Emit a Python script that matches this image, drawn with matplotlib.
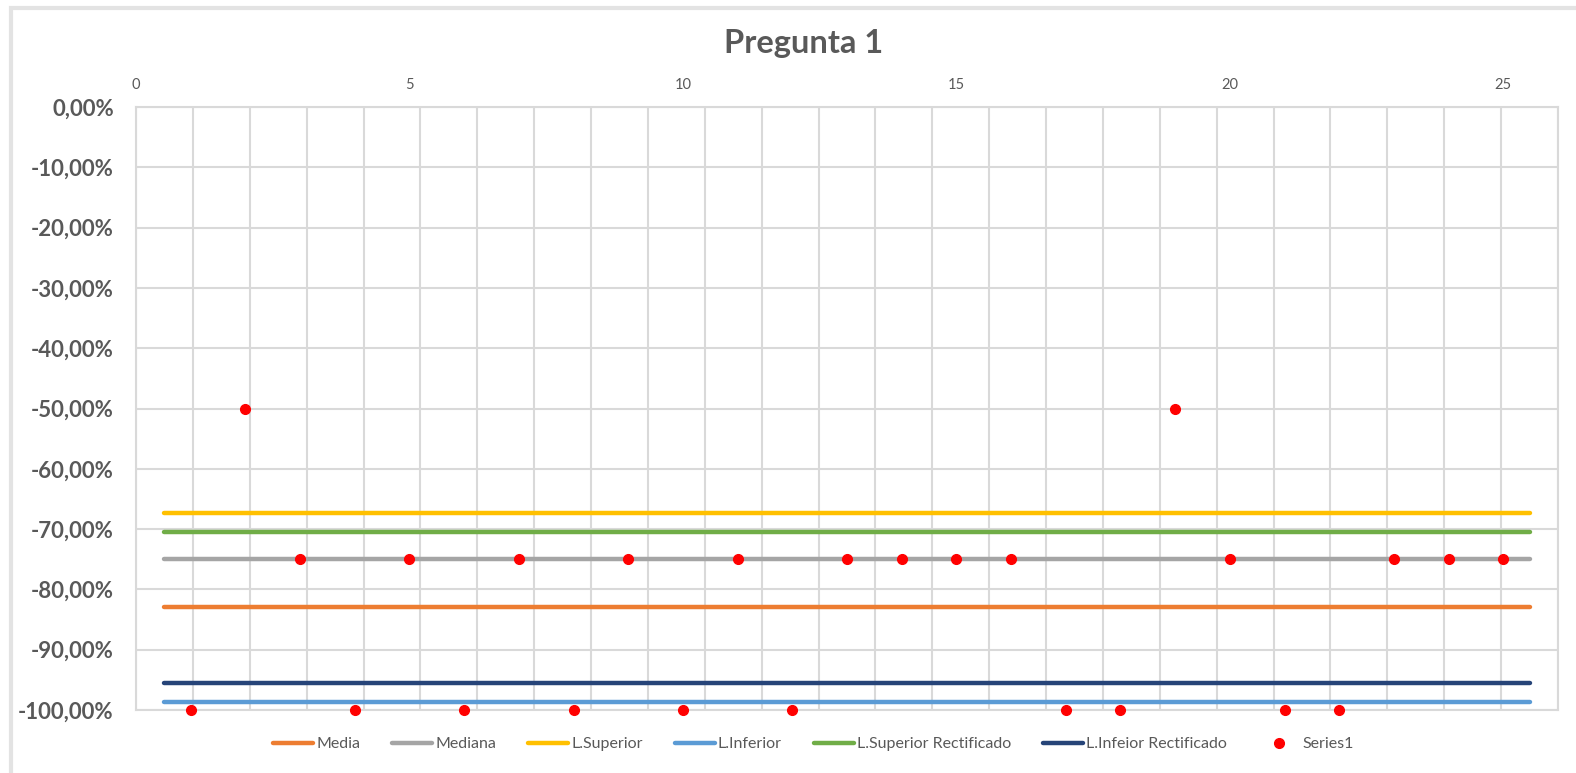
#!/usr/bin/python

# matplotlib, numpy
import numpy as np
import matplotlib
matplotlib.use("Agg")
import matplotlib.pyplot as plt
from matplotlib.patches import Rectangle
from matplotlib.ticker import FuncFormatter, FixedLocator

############################### Data ###############################
# Series1: one answer per respondent (x = 1..25)
resp_x = [1, 2, 3, 4, 5, 6, 7, 8, 9, 10, 11, 12, 13,
          14, 15, 16, 17, 18, 19, 20, 21, 22, 23, 24, 25]
resp_y = [-1.00, -0.50, -0.75, -1.00, -0.75, -1.00, -0.75, -1.00, -0.75, -1.00, -0.75, -1.00, -0.75,
          -0.75, -0.75, -0.75, -1.00, -1.00, -0.50, -0.75, -1.00, -1.00, -0.75, -0.75, -0.75]

# constant reference lines (category axis with 25 points)
line_names = ["Media", "Mediana", "L.Superior", "L.Inferior",
              "L.Superior Rectificado", "L.Infeior Rectificado"]
line_values = [-0.83, -0.75, -0.6732, -0.9868, -0.705, -0.955]
line_colors = ["#ED7D31", "#A5A5A5", "#FFC000", "#5B9BD5", "#70AD47", "#264478"]

title = "Pregunta 1"
grey_txt = "#595959"
grid_col = "#D9D9D9"

plt.rcParams["font.family"] = ["Lato", "DejaVu Sans"]


def pct_fmt(v, pos):
    # Excel style: comma decimals, no "-0"
    v = round(v * 100, 6) + 0.0
    if abs(v) < 1e-9:
        v = 0.0
    return ("%.2f%%" % v).replace(".", ",")


############################### Plot ###############################
fig = plt.figure(figsize=(15.76, 7.73), dpi=100)

# light frame of the chart area
fig.patches.append(Rectangle((11 / 1576, -0.05), 1.2, 1 - 8 / 773 + 0.05,
                             transform=fig.transFigure, fill=False,
                             edgecolor="#E3E3E3", linewidth=3, zorder=0))

ax = fig.add_axes([136 / 1576, 1 - 710 / 773, 1422 / 1576, 603 / 773])

# category axis for the lines
cats = np.arange(1, len(resp_x) + 1)
for name, val, col in zip(line_names, line_values, line_colors):
    ax.plot(cats, np.full(len(cats), val), color=col, linewidth=3.2,
            solid_capstyle="round", label=name, zorder=3)

ax.set_xlim(0.5, len(cats) + 0.5)
ax.set_ylim(-1.0, 0.0)
ax.xaxis.set_major_locator(FixedLocator(np.arange(0.5, len(cats) + 1, 1)))
ax.set_xticklabels([])
ax.tick_params(axis="x", length=0)
ax.yaxis.set_major_locator(FixedLocator(np.arange(-1.0, 0.01, 0.1)))
ax.yaxis.set_major_formatter(FuncFormatter(pct_fmt))
ax.tick_params(axis="y", length=0, pad=16, labelsize=16, labelcolor=grey_txt)
for lbl in ax.get_yticklabels():
    lbl.set_fontweight("bold")
ax.grid(True, color=grid_col, linewidth=1.5, zorder=0)
for s in ax.spines.values():
    s.set_color(grid_col)
    s.set_linewidth(1.5)

# secondary (top) value axis for the scatter
ax2 = ax.twiny()
ax2.plot(resp_x, resp_y, linestyle="none", marker="o", markersize=7,
         color="#FF0000", label="Series1", zorder=4, clip_on=False)
ax2.set_xlim(0, 26)
ax2.set_xticks([0, 5, 10, 15, 20, 25])
ax2.tick_params(axis="x", length=0, pad=11, labelsize=10.5, labelcolor=grey_txt)
for s in ax2.spines.values():
    s.set_visible(False)

fig.text(0.51, 1 - 43 / 773, title, ha="center", va="center",
         fontsize=23.5, fontweight="bold", color=grey_txt)

h1, l1 = ax.get_legend_handles_labels()
h2, l2 = ax2.get_legend_handles_labels()
fig.legend(h1 + h2, l1 + l2, loc="center", bbox_to_anchor=(0.516, 1 - 744 / 773),
           ncol=7, frameon=False, fontsize=11.5, labelcolor=grey_txt,
           handlelength=2.5, handletextpad=0.2, columnspacing=2.0)

plt.savefig("out.png", dpi=100)
